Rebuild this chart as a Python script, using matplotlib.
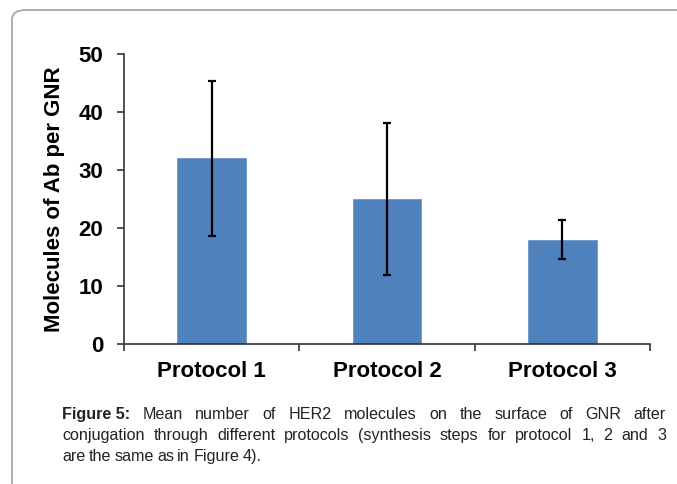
import matplotlib
matplotlib.use("Agg")
import matplotlib.pyplot as plt
from matplotlib.patches import FancyBboxPatch
import numpy as np

categories = ["Protocol 1", "Protocol 2", "Protocol 3"]
means = [32, 25, 18]
errors = [13.4, 13.1, 3.4]
ylabel = "Molecules of Ab per GNR"
caption_bold = "Figure 5:"
caption_lines = [
    "Mean number of HER2 molecules on the surface of GNR after",
    "conjugation through different protocols (synthesis steps for protocol 1, 2 and 3",
    "are the same as in Figure 4).",
]

W, H = 677, 484
fig = plt.figure(figsize=(W / 100, H / 100), dpi=100)
fig.patch.set_facecolor("white")

# rounded frame, right/bottom edges run off the picture
frame = FancyBboxPatch((12 / W, 1 - 600 / H), 800 / W, 590 / H,
                       boxstyle="round,pad=0,rounding_size=0.02",
                       transform=fig.transFigure, fill=False,
                       edgecolor="#a0a0a0", linewidth=1.2)
fig.patches.append(frame)

ax = fig.add_axes([124 / W, 1 - 344 / H, (650 - 124) / W, (344 - 54) / H])
x = np.arange(len(categories))
ax.bar(x, means, width=0.39, color="#4f81bd", edgecolor="#6d95c8", linewidth=0.6,
       yerr=errors, capsize=3, error_kw=dict(ecolor="black", elinewidth=1.6, capthick=1.6),
       zorder=2)
ax.set_xlim(-0.5, len(categories) - 0.5)
ax.set_ylim(0, 50)
ax.set_yticks([0, 10, 20, 30, 40, 50])
ax.set_xticks(x)
ax.set_xticklabels(categories, fontsize=16, fontweight="bold", family="Liberation Sans")
ax.set_xticks(np.arange(len(categories) + 1) - 0.5, minor=True)
ax.tick_params(axis="x", which="major", length=0, pad=12)
ax.tick_params(axis="x", which="minor", length=5, width=1.2, direction="out", color="#333333")
ax.tick_params(axis="y", length=5, width=1.2, direction="out", color="#333333", pad=10)
for lab in ax.get_yticklabels():
    lab.set_fontsize(16)
    lab.set_fontweight("bold")
    lab.set_family("Liberation Sans")
ax.set_ylabel(ylabel, fontsize=16, fontweight="bold", family="Liberation Sans", labelpad=10)
for s in ["top", "right"]:
    ax.spines[s].set_visible(False)
for s in ["left", "bottom"]:
    ax.spines[s].set_color("#333333")
    ax.spines[s].set_linewidth(1.2)

# caption, justified lines like the journal layout
fig.canvas.draw()
renderer = fig.canvas.get_renderer()
cap_font = dict(fontsize=11.6, family="Liberation Sans", color="#222222")
x0, x1 = 62, 666
line_y = [419, 440, 461]
for i, line in enumerate(caption_lines):
    words = line.split(" ")
    items = []
    if i == 0:
        items.append((caption_bold, dict(cap_font, fontweight="bold")))
    items += [(w, cap_font) for w in words]
    texts = [fig.text(0, 1 - line_y[i] / H, w, va="baseline", ha="left", **kw) for w, kw in items]
    widths = [t.get_window_extent(renderer).width for t in texts]
    if i < len(caption_lines) - 1:
        gap = (x1 - x0 - sum(widths)) / (len(texts) - 1)
    else:
        gap = 3.3
    pos = x0
    for t, w in zip(texts, widths):
        t.set_x(pos / W)
        pos += w + gap

fig.savefig("out.png", dpi=100, facecolor="white")
